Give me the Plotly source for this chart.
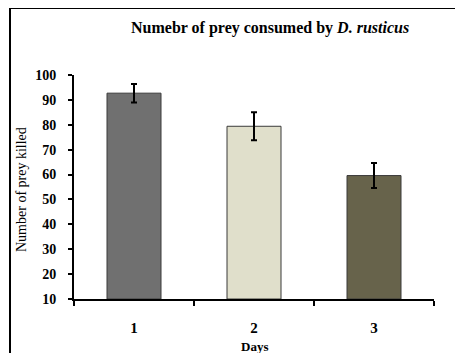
import plotly.graph_objects as go

days = ["1", "2", "3"]
prey_killed = [92.7, 79.4, 59.6]
prey_err = [3.7, 5.6, 5.0]
bar_colors = ["#707070", "#e0dfcb", "#67634b"]
y_ticks = [10, 20, 30, 40, 50, 60, 70, 80, 90, 100]

serif = "Liberation Serif, Times New Roman, serif"

fig = go.Figure()
fig.add_trace(go.Bar(
    x=days, y=[v - 10 for v in prey_killed], base=10,
    marker=dict(color=bar_colors, line=dict(color="#3a3a3a", width=1)),
    error_y=dict(type="data", array=prey_err, color="black", thickness=2, width=3),
    width=0.45,
))

OFF = 8  # page body margin
W, H = 463 - OFF, 353 - OFF
PL, PR, PT, PB = 74, 434, 75, 299
L, R, T, B = PL - OFF, W - (PR - OFF), PT - OFF, H - (PB - OFF)
pw, ph = PR - PL, PB - PT

def px_x(x):
    return (x - PL) / pw

def px_y(y):
    return 1 - (y - PT) / ph

fig.update_layout(
    width=W, height=H,
    margin=dict(l=L, r=R, t=T, b=B, autoexpand=False),
    paper_bgcolor="white", plot_bgcolor="white",
    showlegend=False,
    font=dict(family=serif, color="black", size=12),
    xaxis=dict(
        type="category", range=[-0.5, 2.5],
        showline=True, linecolor="black", linewidth=2,
        ticks="outside", tickson="boundaries", ticklen=5, tickwidth=2, tickcolor="black",
        tickfont=dict(family=serif, size=15, color="black", weight="bold"),
        ticklabelstandoff=14,
        showgrid=False, zeroline=False,
    ),
    yaxis=dict(
        range=[10, 100], tickvals=y_ticks,
        showline=True, linecolor="black", linewidth=2,
        ticks="outside", ticklen=4, tickwidth=2, tickcolor="black",
        tickfont=dict(family=serif, size=14, color="black", weight="bold"),
        ticklabelstandoff=9,
        showgrid=False, zeroline=False,
    ),
    annotations=[
        dict(text="<b>Numebr of prey consumed by <i>D. rusticus</i></b>",
             x=px_x(270), y=px_y(28), xref="paper", yref="paper",
             showarrow=False, font=dict(family=serif, size=16, color="black"),
             xanchor="center", yanchor="middle"),
        dict(text="<b>Days</b>", x=px_x(254), y=px_y(346), xref="paper", yref="paper",
             showarrow=False, font=dict(family=serif, size=13, color="black"),
             xanchor="center", yanchor="middle"),
        dict(text="Number of prey killed", x=px_x(21), y=px_y(190), xref="paper", yref="paper",
             showarrow=False, textangle=-90, font=dict(family=serif, size=14, color="black"),
             xanchor="center", yanchor="middle"),
    ],
    shapes=[
        dict(type="rect", xref="paper", yref="paper",
             x0=px_x(10), x1=px_x(480), y0=px_y(370), y1=px_y(8),
             line=dict(color="black", width=2), fillcolor="rgba(0,0,0,0)", layer="above"),
    ],
)

fig.write_html("out.html")
